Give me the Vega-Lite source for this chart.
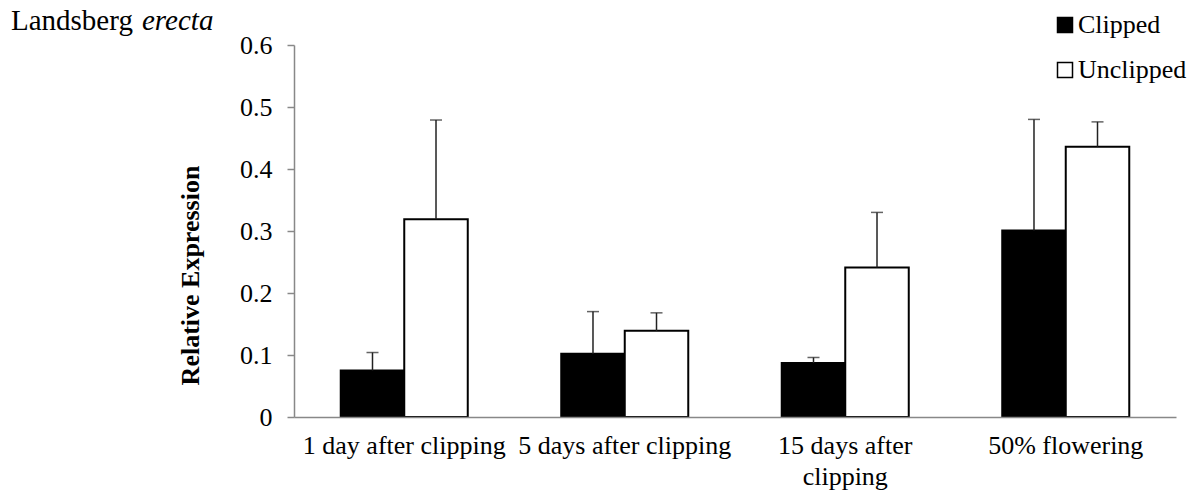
{
  "$schema": "https://vega.github.io/schema/vega-lite/v6.json",
  "width": 882,
  "height": 372,
  "autosize": {"type": "none"},
  "padding": {"left": 294, "top": 45, "right": 21, "bottom": 79},
  "background": "white",
  "config": {"view": {"stroke": null}, "font": "Liberation Serif"},
  "title": {
    "text": "erecta",
    "subtitle": "Landsberg",
    "anchor": "start",
    "frame": "group",
    "dx": -283,
    "dy": 32,
    "offset": 8,
    "font": "Liberation Serif",
    "fontSize": 29,
    "fontWeight": "normal",
    "fontStyle": "italic",
    "color": "black",
    "encoding": {"dx": {"value": -152}},
    "subtitleFont": "Liberation Serif",
    "subtitleFontSize": 29,
    "subtitleFontStyle": "normal",
    "subtitleColor": "black",
    "subtitlePadding": -29
  },
  "data": {
    "values": [
      {"stage": "1 day after clipping", "treatment": "Clipped", "value": 0.075, "upper": 0.104},
      {"stage": "1 day after clipping", "treatment": "Unclipped", "value": 0.319, "upper": 0.479},
      {"stage": "5 days after clipping", "treatment": "Clipped", "value": 0.102, "upper": 0.170},
      {"stage": "5 days after clipping", "treatment": "Unclipped", "value": 0.139, "upper": 0.168},
      {"stage": "15 days after clipping", "treatment": "Clipped", "value": 0.087, "upper": 0.096},
      {"stage": "15 days after clipping", "treatment": "Unclipped", "value": 0.241, "upper": 0.330},
      {"stage": "50% flowering", "treatment": "Clipped", "value": 0.301, "upper": 0.480},
      {"stage": "50% flowering", "treatment": "Unclipped", "value": 0.436, "upper": 0.476}
    ]
  },
  "encoding": {
    "x": {
      "field": "stage",
      "type": "nominal",
      "sort": null,
      "scale": {"paddingInner": 0, "paddingOuter": 0},
      "axis": {
        "title": null,
        "ticks": false,
        "labelAngle": 0,
        "labelFont": "Liberation Serif",
        "labelFontSize": 26,
        "labelColor": "black",
        "labelPadding": 15,
        "labelLimit": 0,
        "labelLineHeight": 31,
        "labelExpr": "datum.label == '15 days after clipping' ? ['15 days after', 'clipping'] : datum.label",
        "domainColor": "#888888",
        "domainWidth": 1.5,
        "zindex": 1
      }
    },
    "xOffset": {
      "field": "treatment",
      "type": "nominal",
      "scale": {"domain": ["Clipped", "Unclipped"], "paddingInner": 0, "paddingOuter": 0.736}
    }
  },
  "layer": [
    {
      "mark": {"type": "bar", "strokeWidth": 2, "stroke": "black"},
      "encoding": {
        "y": {
          "field": "value",
          "type": "quantitative",
          "scale": {"domain": [0, 0.6], "nice": false},
          "axis": {
            "title": "Relative Expression",
            "titleFont": "Liberation Serif",
            "titleFontSize": 26,
            "titleFontWeight": "bold",
            "titleColor": "black",
            "titleAngle": -90,
            "titleAlign": "center",
            "titleBaseline": "alphabetic",
            "titleX": -96,
            "titleY": 230,
            "values": [0, 0.1, 0.2, 0.3, 0.4, 0.5, 0.6],
            "format": ".1~f",
            "grid": false,
            "labelFont": "Liberation Serif",
            "labelFontSize": 26,
            "labelColor": "black",
            "labelPadding": 15,
            "tickSize": 7,
            "tickColor": "#888888",
            "tickWidth": 1.5,
            "domainColor": "#888888",
            "domainWidth": 1.5
          }
        },
        "fill": {
          "field": "treatment",
          "type": "nominal",
          "scale": {"domain": ["Clipped", "Unclipped"], "range": ["black", "white"]},
          "legend": {
            "title": null,
            "orient": "none",
            "legendX": 758,
            "legendY": -33,
            "symbolType": "square",
            "symbolSize": 225,
            "symbolStrokeColor": "black",
            "symbolStrokeWidth": 1.5,
            "labelFont": "Liberation Serif",
            "labelFontSize": 26,
            "labelColor": "black",
            "labelOffset": 0,
            "rowPadding": 19
          }
        }
      }
    },
    {
      "mark": {"type": "rule", "strokeWidth": 1.5, "color": "#222222"},
      "encoding": {
        "y": {"field": "value", "type": "quantitative"},
        "y2": {"field": "upper"}
      }
    },
    {
      "mark": {"type": "tick", "size": 12, "thickness": 1.5, "color": "#222222", "orient": "horizontal"},
      "encoding": {
        "y": {"field": "upper", "type": "quantitative"}
      }
    }
  ]
}
